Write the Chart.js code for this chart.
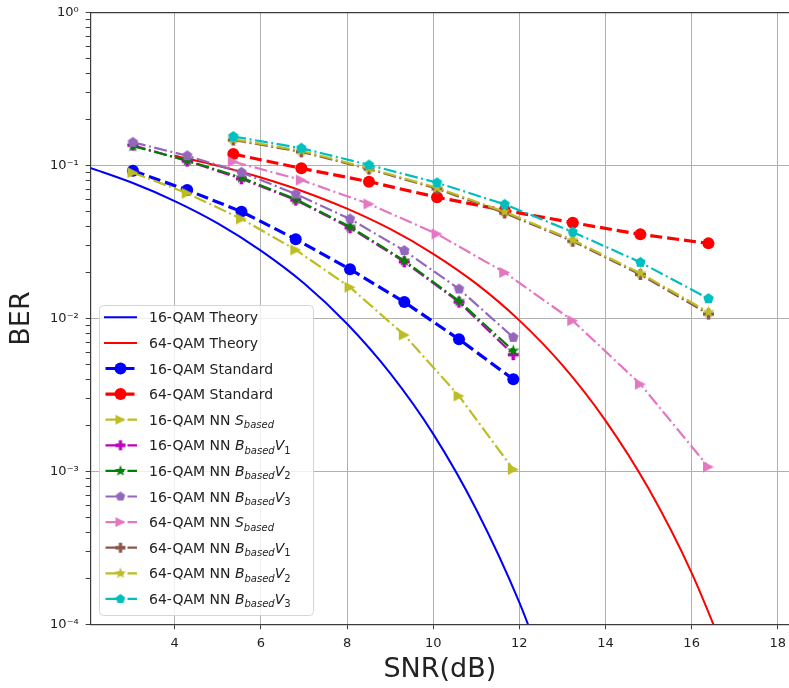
<!DOCTYPE html>
<html>
<head>
<meta charset="utf-8">
<script src="https://cdn.jsdelivr.net/npm/chart.js@4.4.1/dist/chart.umd.min.js"></script>
<style>
  html, body { margin: 0; padding: 0; background: #fff; }
  #wrap { width: 789px; height: 688px; }
</style>
</head>
<body>
<div id="wrap"><canvas id="berChart"></canvas></div>
<script>
/******************* BER vs SNR ***********************/
// x values (SNR in dB)
const snrTheory16 = [2, 3, 4, 5, 6, 7, 8, 9, 10, 11, 12, 13];
const snrTheory64 = [4, 5, 6, 7, 8, 9, 10, 11, 12, 13, 14, 15, 16, 17];
const snr16 = [3.03, 4.29, 5.55, 6.81, 8.07, 9.33, 10.6, 11.86];
const snr64 = [5.36, 6.94, 8.51, 10.09, 11.66, 13.24, 14.81, 16.39];

// theory curves
const ber16Theory = [0.0976, 0.0775, 0.0586, 0.0419, 0.0278, 0.0170, 0.00924, 0.00439, 0.00176, 0.000564, 0.000139, 0.0000243];
const ber64Theory = [0.116, 0.0997, 0.0835, 0.0675, 0.0523, 0.0385, 0.0265, 0.0169, 0.00972, 0.00495, 0.00215, 0.000772, 0.000217, 0.000045];

// simulated curves
const ber16Std = [0.0926, 0.0692, 0.0500, 0.0330, 0.0210, 0.0128, 0.00731, 0.0040];
const ber64Std = [0.119, 0.096, 0.0785, 0.0621, 0.051, 0.0423, 0.0355, 0.031];
const ber16S  = [0.0899, 0.0659, 0.0448, 0.0281, 0.0160, 0.0078, 0.00311, 0.00103];
const ber16V1 = [0.136, 0.107, 0.082, 0.0595, 0.0392, 0.0235, 0.0128, 0.0058];
const ber16V2 = [0.134, 0.108, 0.0834, 0.0602, 0.0398, 0.0239, 0.0130, 0.00615];
const ber16V3 = [0.142, 0.116, 0.0904, 0.0652, 0.0448, 0.0278, 0.0156, 0.00753];
const ber64S  = [0.106, 0.0805, 0.0561, 0.0357, 0.0200, 0.00968, 0.00372, 0.00107];
const ber64V1 = [0.147, 0.123, 0.095, 0.0705, 0.049, 0.032, 0.0194, 0.0107];
const ber64V2 = [0.149, 0.125, 0.096, 0.0716, 0.0499, 0.0326, 0.0198, 0.0110];
const ber64V3 = [0.155, 0.130, 0.101, 0.0773, 0.0558, 0.0368, 0.0233, 0.0135];

const xTicks = [4, 6, 8, 10, 12, 14, 16, 18];
const yDecades = [-4, -3, -2, -1, 0];
const yTickLabels = ['10\u207B\u2074', '10\u207B\u00B3', '10\u207B\u00B2', '10\u207B\u00B9', '10\u2070'];

const FONT = "'DejaVu Sans', sans-serif";
const TEXT = '#222222';
const SPINE = '#3c3c3c';
const DASH = [12, 5];
const DASHDOT = [13, 3.5, 2, 3.5];

// filled marker shapes like matplotlib ('>', 'P', '*', 'p')
function makeMarker(shape, color, size) {
  const c = document.createElement('canvas');
  c.width = c.height = size + 2;
  const g = c.getContext('2d');
  const r = size / 2;
  g.translate(c.width / 2, c.height / 2);
  g.fillStyle = color;
  g.beginPath();
  if (shape === 'tri') {
    g.moveTo(r, 0); g.lineTo(-r, -r); g.lineTo(-r, r);
  } else if (shape === 'plus') {
    const a = r / 3;
    const pts = [[-a,-r],[a,-r],[a,-a],[r,-a],[r,a],[a,a],[a,r],[-a,r],[-a,a],[-r,a],[-r,-a],[-a,-a]];
    pts.forEach((p, i) => i ? g.lineTo(p[0], p[1]) : g.moveTo(p[0], p[1]));
  } else if (shape === 'star') {
    for (let i = 0; i < 10; i++) {
      const rr = i % 2 ? r * 0.4 : r;
      const ang = -Math.PI / 2 + i * Math.PI / 5;
      g.lineTo(rr * Math.cos(ang), rr * Math.sin(ang));
    }
  } else if (shape === 'pent') {
    for (let i = 0; i < 5; i++) {
      const ang = -Math.PI / 2 + i * 2 * Math.PI / 5;
      g.lineTo(r * Math.cos(ang), r * Math.sin(ang));
    }
  }
  g.closePath();
  g.fill();
  return c;
}

function pts(xs, ys) {
  return xs.map((x, i) => ({x: x, y: ys[i]}));
}

function theory(label, xs, ys, color) {
  return {
    label: label, legendText: [{t: label}],
    data: pts(xs, ys),
    borderColor: color, backgroundColor: color,
    borderWidth: 2, pointRadius: 0,
    cubicInterpolationMode: 'monotone'
  };
}

function standard(label, xs, ys, color) {
  return {
    label: label, legendText: [{t: label}],
    data: pts(xs, ys),
    borderColor: color, backgroundColor: color,
    borderWidth: 3.2, borderDash: DASH,
    pointStyle: 'circle', pointRadius: 6, pointBorderWidth: 0,
    pointBackgroundColor: color
  };
}

function nn(label, legendText, xs, ys, color, shape, size) {
  return {
    label: label, legendText: legendText,
    data: pts(xs, ys),
    borderColor: color, backgroundColor: color,
    borderWidth: 2.2, borderDash: DASHDOT,
    pointStyle: makeMarker(shape, color, size),
    legendMarker: makeMarker(shape, color, size - 1),
    pointRadius: 5
  };
}

const sBased = (pre) => [{t: pre}, {t: 'S', it: true}, {t: 'based', it: true, sub: true}];
const bBased = (pre, n) => [{t: pre}, {t: 'B', it: true}, {t: 'based', it: true, sub: true}, {t: 'V', it: true}, {t: n, sub: true}];

const datasets = [
  theory('16-QAM Theory', snrTheory16, ber16Theory, '#0000ff'),
  theory('64-QAM Theory', snrTheory64, ber64Theory, '#ff0000'),
  standard('16-QAM Standard', snr16, ber16Std, '#0000ff'),
  standard('64-QAM Standard', snr64, ber64Std, '#ff0000'),
  nn('16-QAM NN Sbased', sBased('16-QAM NN '), snr16, ber16S, '#bcbd22', 'tri', 11),
  nn('16-QAM NN BbasedV1', bBased('16-QAM NN ', '1'), snr16, ber16V1, '#bf00bf', 'plus', 11),
  nn('16-QAM NN BbasedV2', bBased('16-QAM NN ', '2'), snr16, ber16V2, '#008000', 'star', 13),
  nn('16-QAM NN BbasedV3', bBased('16-QAM NN ', '3'), snr16, ber16V3, '#9467bd', 'pent', 11),
  nn('64-QAM NN Sbased', sBased('64-QAM NN '), snr64, ber64S, '#e377c2', 'tri', 11),
  nn('64-QAM NN BbasedV1', bBased('64-QAM NN ', '1'), snr64, ber64V1, '#8c564b', 'plus', 11),
  nn('64-QAM NN BbasedV2', bBased('64-QAM NN ', '2'), snr64, ber64V2, '#bcbd22', 'star', 13),
  nn('64-QAM NN BbasedV3', bBased('64-QAM NN ', '3'), snr64, ber64V3, '#00bfbf', 'pent', 11)
];
// later series on top, like matplotlib
datasets.forEach((d, i) => { d.order = datasets.length - i; });

function drawRich(ctx, segs, x, y) {
  const base = y + 5;
  segs.forEach(s => {
    const size = s.sub ? 10 : 14;
    ctx.font = (s.it ? 'italic ' : '') + size + 'px ' + FONT;
    ctx.fillText(s.t, x, s.sub ? base + 3.5 : base);
    x += ctx.measureText(s.t).width;
  });
}

// frame top spine + matplotlib style legend
const extras = {
  id: 'extras',
  afterDraw(chart) {
    const ctx = chart.ctx;
    const a = chart.chartArea;
    ctx.save();
    ctx.strokeStyle = SPINE;
    ctx.lineWidth = 1.2;
    ctx.beginPath();
    ctx.moveTo(a.left, a.top); ctx.lineTo(a.right, a.top);
    ctx.stroke();

    const bx = 99.5, by = 305.5, bw = 214, bh = 310, rad = 4;
    ctx.beginPath();
    ctx.moveTo(bx + rad, by);
    ctx.arcTo(bx + bw, by, bx + bw, by + bh, rad);
    ctx.arcTo(bx + bw, by + bh, bx, by + bh, rad);
    ctx.arcTo(bx, by + bh, bx, by, rad);
    ctx.arcTo(bx, by, bx + bw, by, rad);
    ctx.closePath();
    ctx.fillStyle = 'rgba(255,255,255,0.8)';
    ctx.fill();
    ctx.strokeStyle = '#d6d6d6';
    ctx.lineWidth = 1;
    ctx.stroke();

    ctx.textBaseline = 'alphabetic';
    ctx.textAlign = 'left';
    chart.data.datasets.forEach((ds, i) => {
      const y = 317.3 + i * 25.6;
      ctx.beginPath();
      ctx.setLineDash(ds.borderDash || []);
      ctx.lineDashOffset = -1.5;
      ctx.strokeStyle = ds.borderColor;
      ctx.lineWidth = ds.borderWidth;
      ctx.moveTo(104, y); ctx.lineTo(137, y);
      ctx.stroke();
      ctx.setLineDash([]);
      if (ds.legendMarker) {
        const m = ds.legendMarker;
        ctx.drawImage(m, 120.5 - m.width / 2, y - m.height / 2);
      } else if (ds.pointRadius > 0) {
        ctx.beginPath();
        ctx.fillStyle = ds.borderColor;
        ctx.arc(120.5, y, ds.pointRadius, 0, Math.PI * 2);
        ctx.fill();
      }
      ctx.fillStyle = TEXT;
      drawRich(ctx, ds.legendText, 149, y);
    });
    ctx.restore();
  }
};

const isDecade = (v) => {
  const e = Math.log10(v);
  return Math.abs(e - Math.round(e)) < 1e-9;
};

const config = {
  type: 'line',
  data: {datasets: datasets},
  options: {
    responsive: true,
    maintainAspectRatio: false,
    animation: false,
    layout: {autoPadding: false, padding: {top: 12.7, left: 0, right: 0, bottom: 0}},
    plugins: {
      legend: {display: false},
      tooltip: {enabled: false}
    },
    scales: {
      x: {
        type: 'linear',
        min: 2.05,
        max: 18.26,
        afterBuildTicks: (s) => { s.ticks = xTicks.map(v => ({value: v})); },
        afterFit: (s) => { s.height = 63.7; s.paddingLeft = 0; s.paddingRight = 0; },
        ticks: {
          autoSkip: false, maxRotation: 0, padding: 7,
          color: TEXT, font: {family: FONT, size: 13},
          callback: (v) => String(v)
        },
        grid: {color: '#b0b0b0', lineWidth: 1, tickColor: SPINE, tickLength: 5},
        border: {color: SPINE, width: 1.2},
        title: {
          display: true, text: 'SNR(dB)', color: TEXT,
          font: {family: FONT, size: 27}, padding: {top: 0, bottom: 2}
        }
      },
      y: {
        type: 'logarithmic',
        min: 1e-4,
        max: 1,
        afterBuildTicks: (s) => {
          const t = [];
          yDecades.forEach(k => {
            t.push({value: Math.pow(10, k)});
            if (k < 0) for (let m = 2; m <= 9; m++) t.push({value: m * Math.pow(10, k)});
          });
          s.ticks = t;
        },
        afterFit: (s) => { s.width = 90.7; s.paddingTop = 0; s.paddingBottom = 0; },
        ticks: {
          autoSkip: false, padding: 7,
          color: TEXT, font: {family: FONT, size: 13},
          callback: (v) => isDecade(v) ? yTickLabels[yDecades.indexOf(Math.round(Math.log10(v)))] : ''
        },
        grid: {
          color: (ctx) => (ctx.tick && isDecade(ctx.tick.value)) ? '#b0b0b0' : 'rgba(0,0,0,0)',
          lineWidth: 1, tickColor: SPINE, tickLength: 5
        },
        border: {color: SPINE, width: 1.2},
        title: {
          display: true, text: 'BER', color: TEXT,
          font: {family: FONT, size: 27}, padding: {top: 5.5, bottom: 0}
        }
      }
    }
  },
  plugins: [extras]
};

const berChart = new Chart(document.getElementById('berChart'), config);
</script>
</body>
</html>
